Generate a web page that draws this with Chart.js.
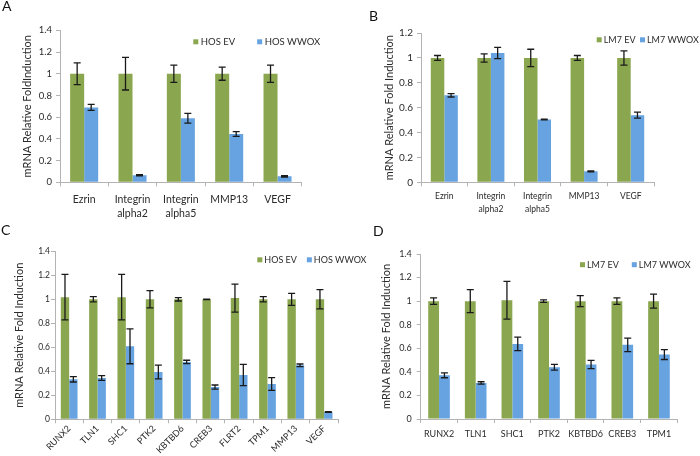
<!DOCTYPE html>
<html><head><meta charset="utf-8">
<script src="https://cdn.jsdelivr.net/npm/chart.js@4/dist/chart.umd.min.js"></script>
<style>
html,body{margin:0;padding:0;background:#fff}
body{width:700px;height:456px;overflow:hidden;position:relative;font-family:Lato,"Liberation Sans",sans-serif}
canvas{position:absolute}
.lbl{position:absolute;font:14px Lato,"Liberation Sans",sans-serif;line-height:14px;color:#111}
</style></head>
<body>
<canvas id="cA" width="350" height="228" style="left:0;top:0"></canvas>
<canvas id="cB" width="350" height="228" style="left:350px;top:0"></canvas>
<canvas id="cC" width="380" height="228" style="left:0;top:228px"></canvas>
<canvas id="cD" width="350" height="228" style="left:350px;top:228px"></canvas>
<div class="lbl" style="left:2px;top:-1px">A</div>
<div class="lbl" style="left:369px;top:9px">B</div>
<div class="lbl" style="left:1px;top:223px">C</div>
<div class="lbl" style="left:373px;top:224px">D</div>
<script>
// ---------- Data ----------
const yTicks14 = [0, 0.2, 0.4, 0.6, 0.8, 1, 1.2, 1.4];
const yTicks12 = [0, 0.2, 0.4, 0.6, 0.8, 1, 1.2];

// Panel A (HOS)
const catsA = ['Ezrin', ['Integrin', 'alpha2'], ['Integrin', 'alpha5'], 'MMP13', 'VEGF'];
const hosEvA = [1, 1, 1, 1, 1];
const hosEvErrA = [0.10, 0.15, 0.08, 0.06, 0.08];
const hosWwoxA = [0.69, 0.065, 0.59, 0.445, 0.055];
const hosWwoxErrA = [0.027, 0.005, 0.045, 0.022, 0.006];

// Panel B (LM7)
const catsB = ['Ezrin', ['Integrin', 'alpha2'], ['Integrin', 'alpha5'], 'MMP13', 'VEGF'];
const lm7EvB = [1, 1, 1, 1, 1];
const lm7EvErrB = [0.02, 0.033, 0.07, 0.02, 0.057];
const lm7WwoxB = [0.70, 1.04, 0.505, 0.088, 0.54];
const lm7WwoxErrB = [0.014, 0.045, 0.003, 0.003, 0.024];

// Panel C (HOS)
const catsC = ['RUNX2', 'TLN1', 'SHC1', 'PTK2', 'KBTBD6', 'CREB3', 'FLRT2', 'TPM1', 'MMP13', 'VEGF'];
const hosEvC = [1.018, 1.0, 1.018, 1.0, 1.0, 1.0, 1.01, 1.0, 1.0, 1.0];
const hosEvErrC = [0.19, 0.022, 0.19, 0.072, 0.014, 0.002, 0.117, 0.022, 0.05, 0.08];
const hosWwoxC = [0.333, 0.344, 0.608, 0.394, 0.478, 0.269, 0.369, 0.294, 0.45, 0.061];
const hosWwoxErrC = [0.022, 0.02, 0.145, 0.057, 0.014, 0.017, 0.089, 0.053, 0.011, 0.003];

// Panel D (LM7)
const catsD = ['RUNX2', 'TLN1', 'SHC1', 'PTK2', 'KBTBD6', 'CREB3', 'TPM1'];
const lm7EvD = [1, 1, 1.008, 1, 1, 1, 1];
const lm7EvErrD = [0.027, 0.098, 0.16, 0.01, 0.047, 0.027, 0.06];
const lm7WwoxD = [0.371, 0.306, 0.637, 0.439, 0.462, 0.629, 0.547];
const lm7WwoxErrD = [0.021, 0.01, 0.057, 0.025, 0.035, 0.057, 0.042];

// ---------- Styles ----------
const GREEN = '#8aa64f';
const BLUE = '#66a3e0';
const AXIS = '#b3b3b3';
const TXT = '#2b2b2b';
const FONT = 'Lato, "Liberation Sans", sans-serif';

// ---------- Plugins ----------
const errorBars = {
  id: 'errorBars',
  afterDatasetsDraw(chart, args, o) {
    const ctx = chart.ctx, ys = chart.scales.y;
    const cap = o.cap || 3.5;
    ctx.save();
    ctx.strokeStyle = o.color || '#1a1a1a';
    ctx.lineWidth = o.width || 1.2;
    chart.data.datasets.forEach((ds, i) => {
      const meta = chart.getDatasetMeta(i);
      if (!ds.errors || meta.hidden) return;
      meta.data.forEach((bar, j) => {
        const v = ds.data[j], e = ds.errors[j];
        const x = bar.x;
        const yt = ys.getPixelForValue(v + e), yb = ys.getPixelForValue(v - e);
        ctx.beginPath();
        ctx.moveTo(x, yt); ctx.lineTo(x, yb);
        ctx.moveTo(x - cap, yt); ctx.lineTo(x + cap, yt);
        ctx.moveTo(x - cap, yb); ctx.lineTo(x + cap, yb);
        ctx.stroke();
      });
    });
    ctx.restore();
  }
};

const boxLegend = {
  id: 'boxLegend',
  afterDraw(chart, args, o) {
    if (!o || o.x === undefined) return;
    const ctx = chart.ctx;
    ctx.save();
    ctx.font = o.font;
    ctx.textBaseline = 'middle';
    ctx.textAlign = 'left';
    let x = o.x;
    chart.data.datasets.forEach((ds) => {
      ctx.fillStyle = ds.backgroundColor;
      ctx.fillRect(x, o.y - o.box / 2, o.box, o.box);
      ctx.fillStyle = o.color || TXT;
      const tx = x + o.box + o.gap;
      ctx.fillText(ds.label, tx, o.y);
      x = tx + ctx.measureText(ds.label).width + o.itemGap;
    });
    ctx.restore();
  }
};

Chart.register(errorBars, boxLegend);

function build(id, c) {
  return new Chart(document.getElementById(id), {
    type: 'bar',
    data: {
      labels: c.labels,
      datasets: [
        { label: c.names[0], data: c.ev, errors: c.evErr, backgroundColor: GREEN, borderWidth: 0,
          barPercentage: 1, categoryPercentage: c.catPct },
        { label: c.names[1], data: c.wx, errors: c.wxErr, backgroundColor: BLUE, borderWidth: 0,
          barPercentage: 1, categoryPercentage: c.catPct }
      ]
    },
    options: {
      responsive: false,
      animation: false,
      devicePixelRatio: 1,
      layout: { padding: { left: 0, top: c.area.top, right: c.w - c.area.right, bottom: 0 } },
      plugins: {
        legend: { display: false },
        tooltip: { enabled: false },
        boxLegend: c.legend,
        errorBars: { cap: 3.5, width: 1.3, color: '#1a1a1a' }
      },
      scales: {
        x: {
          grid: { drawOnChartArea: false, drawTicks: true, tickLength: 4, color: AXIS, offset: true },
          border: { display: true, color: AXIS, width: 1 },
          ticks: { font: c.xFont, color: TXT, padding: c.xPad, autoSkip: false,
                   maxRotation: c.rot, minRotation: c.rot },
          afterFit: s => { s.height = c.h - c.area.bottom; }
        },
        y: {
          min: 0, max: c.max,
          afterBuildTicks: s => { s.ticks = c.yTicks.map(v => ({ value: v })); },
          grid: { drawOnChartArea: false, drawTicks: true, tickLength: 4, color: AXIS },
          border: { display: true, color: AXIS, width: 1 },
          ticks: { font: c.yFont, color: TXT, padding: c.yPad, callback: v => String(+(+v).toFixed(1)) },
          title: { display: true, text: c.title, font: c.titleFont, color: TXT,
                   padding: { top: c.titleTop, bottom: 0 } },
          afterFit: s => { s.width = c.area.left; }
        }
      }
    }
  });
}

const titleFont = { family: FONT, size: 11, lineHeight: 1.2 };

build('cA', {
  labels: catsA, names: ['HOS EV', 'HOS WWOX'],
  ev: hosEvA, evErr: hosEvErrA, wx: hosWwoxA, wxErr: hosWwoxErrA,
  w: 350, h: 228, area: { left: 60, right: 301.7, top: 30.3, bottom: 182.3 },
  max: 1.4, yTicks: yTicks14, catPct: 0.58, rot: 0,
  xFont: { family: FONT, size: 10.5, lineHeight: 1.27 }, xPad: 7,
  yFont: { family: FONT, size: 9.5 }, yPad: 4,
  title: 'mRNA Relative FoldInduction', titleFont: titleFont, titleTop: 20.7,
  legend: { x: 193.3, y: 41.8, box: 5, gap: 2.5, itemGap: 22, font: '9.5px ' + FONT }
});

build('cB', {
  labels: catsB, names: ['LM7 EV', 'LM7 WWOX'],
  ev: lm7EvB, evErr: lm7EvErrB, wx: lm7WwoxB, wxErr: lm7WwoxErrB,
  w: 350, h: 228, area: { left: 71, right: 304, top: 33.1, bottom: 182.3 },
  max: 1.2, yTicks: yTicks12, catPct: 0.58, rot: 0,
  xFont: { family: FONT, size: 8.5, lineHeight: 1.56 }, xPad: 3,
  yFont: { family: FONT, size: 10 }, yPad: 4,
  title: 'mRNA Relative Fold Induction', titleFont: titleFont, titleTop: 32.7,
  legend: { x: 246.7, y: 39.8, box: 5, gap: 2, itemGap: 4.5, font: '9px ' + FONT }
});

build('cC', {
  labels: catsC, names: ['HOS EV', 'HOS WWOX'],
  ev: hosEvC, evErr: hosEvErrC, wx: hosWwoxC, wxErr: hosWwoxErrC,
  w: 380, h: 228, area: { left: 55, right: 338.3, top: 23.3, bottom: 191.3 },
  max: 1.4, yTicks: yTicks14, catPct: 0.59, rot: 45,
  xFont: { family: FONT, size: 9 }, xPad: 0,
  yFont: { family: FONT, size: 8.5 }, yPad: 1,
  title: 'mRNA Relative Fold Induction', titleFont: titleFont, titleTop: 12.7,
  legend: { x: 257.3, y: 31.8, box: 5, gap: 2, itemGap: 10, font: '9px ' + FONT }
});

build('cD', {
  labels: catsD, names: ['LM7 EV', 'LM7 WWOX'],
  ev: lm7EvD, evErr: lm7EvErrD, wx: lm7WwoxD, wxErr: lm7WwoxErrD,
  w: 350, h: 228, area: { left: 70.7, right: 327.3, top: 26, bottom: 191 },
  max: 1.4, yTicks: yTicks14, catPct: 0.59, rot: 0,
  xFont: { family: FONT, size: 9 }, xPad: 6,
  yFont: { family: FONT, size: 9 }, yPad: 5,
  title: 'mRNA Relative Fold Induction', titleFont: titleFont, titleTop: 29.4,
  legend: { x: 230, y: 36.7, box: 5, gap: 2, itemGap: 13, font: '9px ' + FONT }
});
</script>
</body></html>
